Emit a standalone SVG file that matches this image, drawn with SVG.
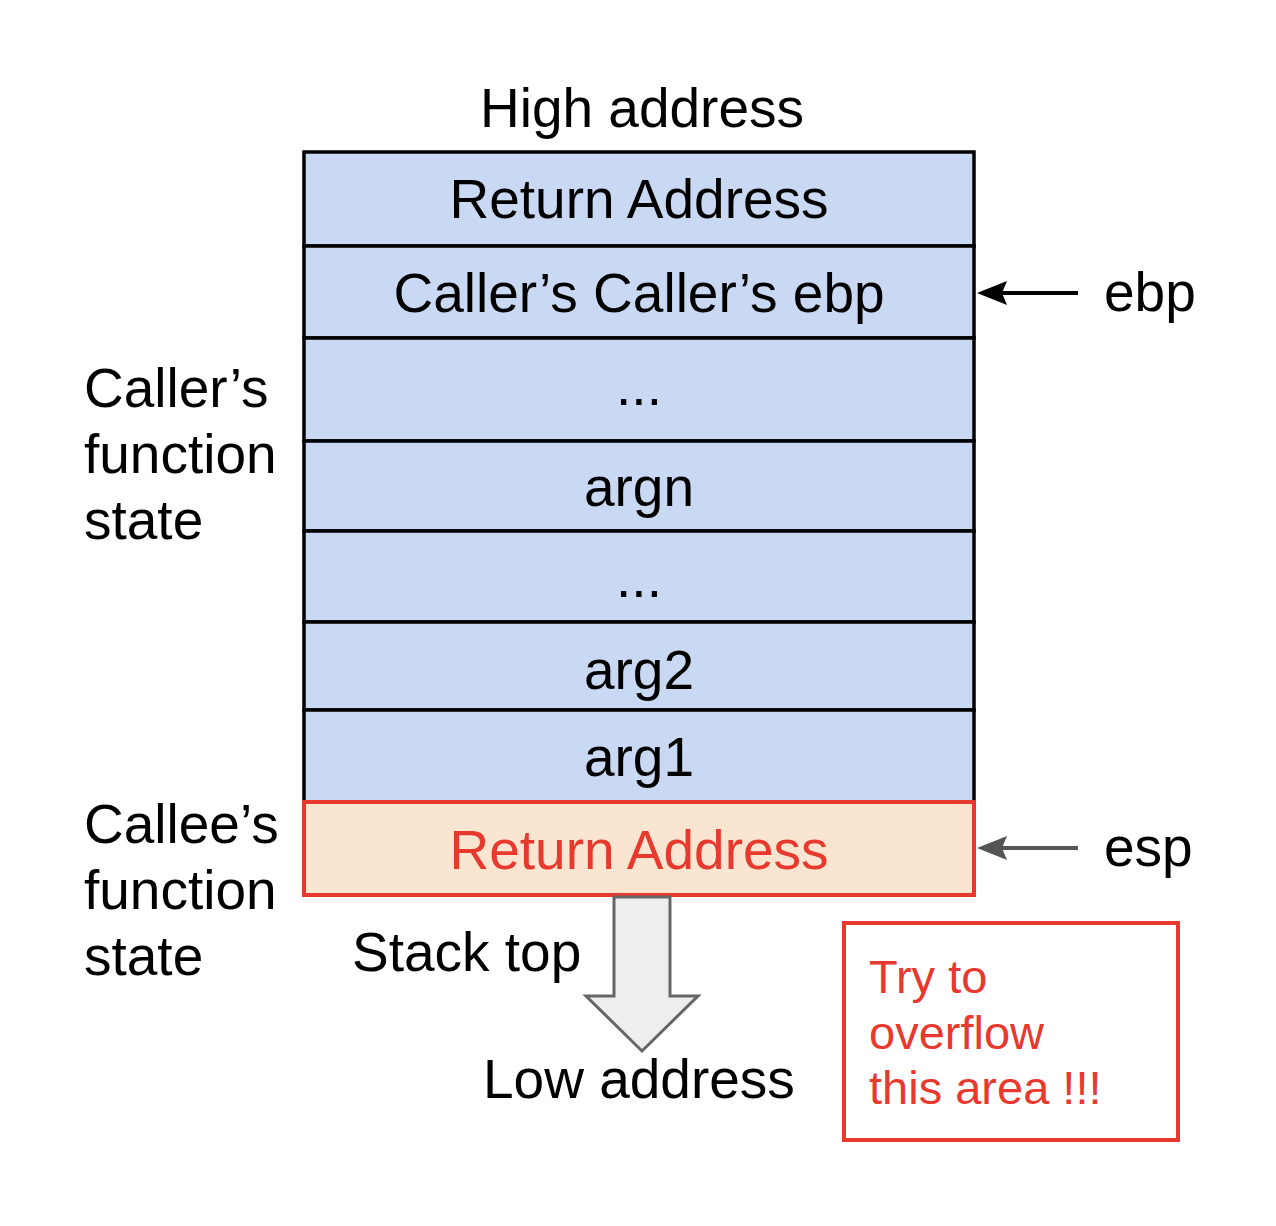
<svg xmlns="http://www.w3.org/2000/svg" width="1276" height="1226" viewBox="0 0 1276 1226">
<defs>
<style>
text{font-family:"Liberation Sans",Arial,sans-serif;font-size:55px;fill:#000}
.c{text-anchor:middle}
.r{fill:#e8392f}
.cell{fill:#c9d8f3;stroke:#000;stroke-width:3.5}
.hot{fill:#fae5d0;stroke:#e8392f;stroke-width:4}
.sm{font-size:47px}
</style>
</defs>
<rect width="1276" height="1226" fill="#fff"/>
<text id="high" class="c" x="642" y="127">High address</text>
<g id="row1"><rect class="cell" x="304" y="152" width="670" height="94"/><text class="c" x="639" y="218">Return Address</text></g>
<g id="row2"><rect class="cell" x="304" y="246" width="670" height="92"/><text class="c" x="639" y="312">Caller’s Caller’s ebp</text></g>
<g id="row3"><rect class="cell" x="304" y="338" width="670" height="103"/><text class="c" x="639" y="405">...</text></g>
<g id="row4"><rect class="cell" x="304" y="441" width="670" height="90"/><text class="c" x="639" y="506">argn</text></g>
<g id="row5"><rect class="cell" x="304" y="531" width="670" height="91"/><text class="c" x="639" y="597">...</text></g>
<g id="row6"><rect class="cell" x="304" y="622" width="670" height="88"/><text class="c" x="639" y="689">arg2</text></g>
<g id="row7"><rect class="cell" x="304" y="710" width="670" height="92"/><text class="c" x="639" y="776">arg1</text></g>
<g id="row8"><rect class="hot" x="304" y="802" width="670" height="93"/><text class="c r" x="639" y="869">Return Address</text></g>
<g id="callerLabel"><text x="84" y="407">Caller’s</text><text x="84" y="473">function</text><text x="84" y="539">state</text></g>
<g id="calleeLabel"><text x="84" y="843">Callee’s</text><text x="84" y="909">function</text><text x="84" y="975">state</text></g>
<g id="stacktop"><text x="352" y="971">Stack top</text></g>
<g id="low"><text x="483" y="1098">Low address</text></g>
<g id="ebpLabel"><text x="1104" y="311">ebp</text></g>
<g id="espLabel"><text x="1104" y="866">esp</text></g>
<g id="note"><rect x="844" y="923" width="334" height="217" fill="#fff" stroke="#e8392f" stroke-width="4"/><text class="sm r" x="869" y="993">Try to</text><text class="sm r" x="869" y="1049">overflow</text><text class="sm r" x="869" y="1104">this area !!!</text></g>
<g id="connectors">
<line x1="1078" y1="293" x2="1000" y2="293" stroke="#000" stroke-width="4"/>
<path d="M977,293 L1007,281 L1002,293 L1007,305 Z" fill="#000"/>
<line x1="1078" y1="848" x2="1000" y2="848" stroke="#555" stroke-width="4"/>
<path d="M977,848 L1007,836 L1002,848 L1007,860 Z" fill="#555"/>
<path d="M614,897 L670,897 L670,996 L698,996 L642,1051 L586,996 L614,996 Z" fill="#eeeeee" stroke="#666" stroke-width="3" stroke-linejoin="miter"/>
</g>
</svg>
